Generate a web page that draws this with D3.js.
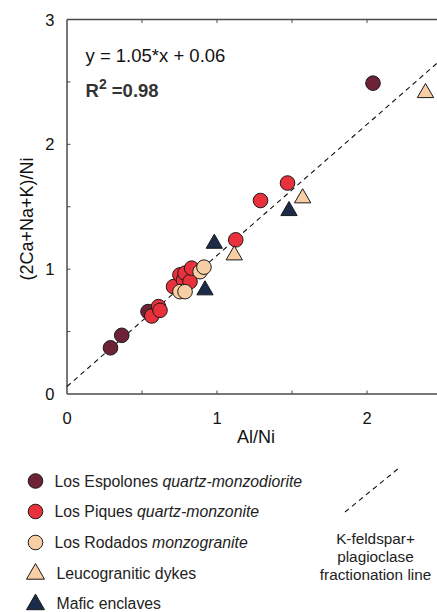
<!DOCTYPE html>
<html>
<head>
<meta charset="utf-8">
<script src="https://cdn.jsdelivr.net/npm/d3@7"></script>
<style>
  html, body { margin: 0; padding: 0; background: #fff; }
  svg { display: block; font-family: "Liberation Sans", Arial, sans-serif; }
</style>
</head>
<body>
<svg id="chart" width="437" height="612"></svg>
<script>
// ---- Data ----
const espolonesX = [2.04, 0.29, 0.365, 0.54];
const espolonesY = [2.49, 0.37, 0.47, 0.66];

const piquesX = [1.47, 1.29, 1.125, 0.565, 0.61, 0.62, 0.71, 0.753, 0.776, 0.787, 0.82, 0.831];
const piquesY = [1.69, 1.55, 1.235, 0.625, 0.70, 0.67, 0.86, 0.954, 0.914, 0.968, 0.90, 1.008];

const rodadosX = [0.753, 0.787, 0.887, 0.913];
const rodadosY = [0.82, 0.82, 0.98, 1.016];

const dykesX = [1.115, 1.571, 2.39];
const dykesY = [1.12, 1.577, 2.42];

const maficX = [0.982, 1.48, 0.92];
const maficY = [1.213, 1.475, 0.84];

const xTicks = [0, 1, 2];
const yTicks = [0, 1, 2, 3];
const minorTicks = [0, 0.5, 1, 1.5, 2, 2.5, 3];

const fitSlope = 1.05, fitIntercept = 0.06;
const fitLineX = [0, 2.5];

const legendItems = [
  { name: "Los Espolones ", italic: "quartz-monzodiorite", shape: "circle", color: "#6e2236" },
  { name: "Los Piques ", italic: "quartz-monzonite", shape: "circle", color: "#e8313b" },
  { name: "Los Rodados ", italic: "monzogranite", shape: "circle", color: "#f8cfa4" },
  { name: "Leucogranitic dykes", italic: "", shape: "triangle", color: "#f8cfa4" },
  { name: "Mafic enclaves", italic: "", shape: "triangle", color: "#1d2b4a" }
];
const lineLegendLines = ["K-feldspar+", "plagioclase", "fractionation line"];

const series = [
  { xs: espolonesX, ys: espolonesY, item: legendItems[0] },
  { xs: piquesX, ys: piquesY, item: legendItems[1] },
  { xs: rodadosX, ys: rodadosY, item: legendItems[2] },
  { xs: dykesX, ys: dykesY, item: legendItems[3] },
  { xs: maficX, ys: maficY, item: legendItems[4] }
];

// ---- Layout ----
const svg = d3.select("#chart");
const x = d3.scaleLinear().domain([0, 2.5]).range([67, 442]);
const y = d3.scaleLinear().domain([0, 3]).range([394, 19.5]);
const axisColor = "#4a4a4a";

// Frame lines
svg.append("line").attr("x1", x(0)).attr("x2", x(2.5)).attr("y1", y(0)).attr("y2", y(0))
  .attr("stroke", axisColor).attr("stroke-width", 1.5);
svg.append("line").attr("x1", x(0)).attr("x2", x(2.5)).attr("y1", y(3)).attr("y2", y(3))
  .attr("stroke", axisColor).attr("stroke-width", 1.5);
svg.append("line").attr("x1", x(0)).attr("x2", x(0)).attr("y1", y(0)).attr("y2", y(3))
  .attr("stroke", axisColor).attr("stroke-width", 1.5);

// Inward minor ticks
const tickLen = 3.5;
minorTicks.filter(v => v > 0 && v < 2.5).forEach(v => {
  svg.append("line").attr("x1", x(v)).attr("x2", x(v)).attr("y1", y(0)).attr("y2", y(0) - tickLen)
    .attr("stroke", axisColor).attr("stroke-width", 1);
  svg.append("line").attr("x1", x(v)).attr("x2", x(v)).attr("y1", y(3)).attr("y2", y(3) + tickLen)
    .attr("stroke", axisColor).attr("stroke-width", 1);
});
minorTicks.filter(v => v > 0 && v < 3).forEach(v => {
  svg.append("line").attr("x1", x(0)).attr("x2", x(0) + tickLen).attr("y1", y(v)).attr("y2", y(v))
    .attr("stroke", axisColor).attr("stroke-width", 1);
});

// Tick labels
svg.append("g").selectAll("text").data(xTicks).join("text")
  .attr("x", d => x(d)).attr("y", 424)
  .attr("text-anchor", "middle").attr("font-size", 16.5).attr("fill", "#111")
  .text(d => d);
svg.append("g").selectAll("text").data(yTicks).join("text")
  .attr("x", 54.5).attr("y", d => y(d) + 6)
  .attr("text-anchor", "end").attr("font-size", 16.5).attr("fill", "#111")
  .text(d => d);

// Axis titles
svg.append("text").attr("x", 256).attr("y", 442.5).attr("text-anchor", "middle")
  .attr("font-size", 18).attr("fill", "#111").text("Al/Ni");
svg.append("text").attr("transform", "translate(32.5,219) rotate(-90)").attr("text-anchor", "middle")
  .attr("font-size", 18).attr("fill", "#111").text("(2Ca+Na+K)/Ni");

// Fit line
const line = d3.line().x(d => x(d)).y(d => y(fitSlope * d + fitIntercept));
svg.append("path").datum(fitLineX).attr("d", line)
  .attr("fill", "none").attr("stroke", "#111").attr("stroke-width", 1.1)
  .attr("stroke-dasharray", "5,4");

// Equation
svg.append("text").attr("x", 85.5).attr("y", 61.5).attr("font-size", 18.5).attr("fill", "#111")
  .text("y = 1.05*x + 0.06");
const r2 = svg.append("text").attr("x", 85.5).attr("y", 96.5).attr("font-size", 18.5)
  .attr("font-weight", "bold").attr("fill", "#333");
r2.append("tspan").text("R");
r2.append("tspan").attr("dy", -8).attr("font-size", 14).text("2");
r2.append("tspan").attr("dy", 8).text(" =0.98");

// Symbols
function drawMark(g, shape, color, cx, cy, triSize) {
  if (shape === "circle") {
    g.append("circle").attr("cx", cx).attr("cy", cy).attr("r", 7.3)
      .attr("fill", color).attr("stroke", "#1a1a1a").attr("stroke-width", 1);
  } else {
    const tri = d3.symbol().type(d3.symbolTriangle).size(triSize || 115);
    g.append("path").attr("d", tri()).attr("transform", `translate(${cx},${cy + 1})`)
      .attr("fill", color).attr("stroke", "#1a1a1a").attr("stroke-width", 1);
  }
}

const pts = svg.append("g");
series.forEach(s => {
  s.xs.forEach((xv, i) => drawMark(pts, s.item.shape, s.item.color, x(xv), y(s.ys[i])));
});

// Legend
const legY = [481, 511.5, 542.5, 573, 603.5];
legendItems.forEach((it, i) => {
  const g = svg.append("g");
  drawMark(g, it.shape, it.color, 35.5, legY[i], 140);
  const t = g.append("text").attr("x", it.shape === "circle" ? 54.5 : 56.5).attr("y", legY[i] + 5.5)
    .attr("font-size", 15.8).attr("fill", "#222");
  t.append("tspan").text(it.name);
  if (it.italic) t.append("tspan").attr("font-style", "italic").text(it.italic);
});

// Legend for the fractionation line
svg.append("line").attr("x1", 345).attr("y1", 512).attr("x2", 399).attr("y2", 468)
  .attr("stroke", "#111").attr("stroke-width", 1.1).attr("stroke-dasharray", "5,4");
lineLegendLines.forEach((s, i) => {
  svg.append("text").attr("x", 375.5).attr("y", 544 + i * 18).attr("text-anchor", "middle")
    .attr("font-size", 15.3).attr("fill", "#222").text(s);
});
</script>
</body>
</html>
